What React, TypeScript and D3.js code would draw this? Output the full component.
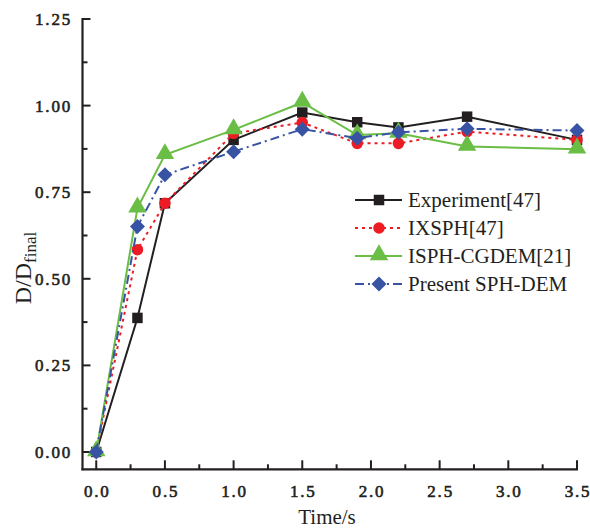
import React from "react";
import * as d3 from "d3";

const times = [0, 0.3, 0.5, 1.0, 1.5, 1.9, 2.2, 2.7, 3.5];
const experiment = [0, 0.387, 0.718, 0.901, 0.98, 0.952, 0.937, 0.968, 0.901];
const ixsph = [0, 0.584, 0.718, 0.92, 0.951, 0.891, 0.891, 0.925, 0.901];
const isphCgdem = [0, 0.704, 0.858, 0.93, 1.009, 0.915, 0.92, 0.882, 0.874];
const presentSphDem = [0, 0.651, 0.8, 0.867, 0.932, 0.906, 0.923, 0.933, 0.928];
const seriesNames = ["Experiment[47]", "IXSPH[47]", "ISPH-CGDEM[21]", "Present SPH-DEM"];
const xTickValues = [0, 0.5, 1.0, 1.5, 2.0, 2.5, 3.0, 3.5];
const yTickValues = [0, 0.25, 0.5, 0.75, 1.0, 1.25];

const W = 590;
const H = 529;

type Shape = "square" | "circle" | "triangle" | "diamond";
const styles: { color: string; dash: string; shape: Shape }[] = [
  { color: "#231f20", dash: "", shape: "square" },
  { color: "#ed1c24", dash: "3,4", shape: "circle" },
  { color: "#6abd45", dash: "", shape: "triangle" },
  { color: "#3953a4", dash: "9,4,2,4", shape: "diamond" },
];

function Marker({ shape, x, y, color }: { shape: Shape; x: number; y: number; color: string }) {
  let p: string;
  if (shape === "diamond") {
    const path = d3.path();
    path.moveTo(0, -7.5);
    path.lineTo(7.5, 0);
    path.lineTo(0, 7.5);
    path.lineTo(-7.5, 0);
    path.closePath();
    p = path.toString();
  } else {
    const sym = shape === "square" ? d3.symbolSquare : shape === "circle" ? d3.symbolCircle : d3.symbolTriangle;
    const size = shape === "square" ? 110 : shape === "circle" ? 105 : 90;
    p = d3.symbol().type(sym).size(size)() as string;
  }
  const t = shape === "triangle" ? `translate(${x},${y - 1}) scale(1.28)` : `translate(${x},${y})`;
  return <path d={p} transform={t} fill={color} />;
}

export default function App() {
  const x = d3.scaleLinear().domain([-0.1, 3.5]).range([82.5, 577]);
  const y = d3.scaleLinear().domain([-0.05, 1.25]).range([469.3, 19]);
  const data = [experiment, ixsph, isphCgdem, presentSphDem];
  const line = d3
    .line<number>()
    .x((_, i) => x(times[i]))
    .y((d) => y(d));

  const xMinor = d3.range(0.25, 3.5, 0.5);
  const yMinor = d3.range(0.125, 1.25, 0.25);
  const serif = "'Liberation Serif', 'Times New Roman', serif";

  return (
    <svg width={W} height={H} style={{ position: "absolute", left: 0, top: 0 }}>
      <rect width={W} height={H} fill="#fff" />
      {/* axes */}
      <line x1={x(-0.1)} x2={x(-0.1)} y1={y(1.25) - 1} y2={y(-0.05) + 1} stroke="#231f20" strokeWidth={2.2} />
      <line x1={x(-0.1) - 1} x2={x(3.5) + 1} y1={y(-0.05)} y2={y(-0.05)} stroke="#231f20" strokeWidth={2.2} />
      {yTickValues.map((v) => (
        <g key={"yt" + v}>
          <line x1={x(-0.1)} x2={x(-0.1) + 8} y1={y(v)} y2={y(v)} stroke="#231f20" strokeWidth={2} />
          <text x={72} y={y(v)} dy="0.35em" textAnchor="end" fontFamily={serif} fontSize={17} letterSpacing={1.8} fill="#231f20" stroke="#231f20" strokeWidth={0.6}>
            {d3.format(".2f")(v)}
          </text>
        </g>
      ))}
      {yMinor.map((v) => (
        <line key={"ym" + v} x1={x(-0.1)} x2={x(-0.1) + 5} y1={y(v)} y2={y(v)} stroke="#231f20" strokeWidth={2} />
      ))}
      {xTickValues.map((v) => (
        <g key={"xt" + v}>
          <line x1={x(v)} x2={x(v)} y1={y(-0.05)} y2={y(-0.05) - 9} stroke="#231f20" strokeWidth={2} />
          <text x={x(v) + 1} y={497} textAnchor="middle" fontFamily={serif} fontSize={17} letterSpacing={1.8} fill="#231f20" stroke="#231f20" strokeWidth={0.6}>
            {d3.format(".1f")(v)}
          </text>
        </g>
      ))}
      {xMinor.map((v) => (
        <line key={"xm" + v} x1={x(v)} x2={x(v)} y1={y(-0.05)} y2={y(-0.05) - 5} stroke="#231f20" strokeWidth={2} />
      ))}
      {/* axis titles */}
      <text x={327} y={524} textAnchor="middle" fontFamily={serif} fontSize={21} fill="#231f20">
        Time/s
      </text>
      <text transform="translate(31,268) rotate(-90)" textAnchor="middle" fontFamily={serif} fontSize={24} fill="#231f20">
        D/D<tspan fontSize={17} dy={5}>final</tspan>
      </text>
      {/* series */}
      {data.map((arr, si) => (
        <g key={"s" + si}>
          <path d={line(arr) as string} fill="none" stroke={styles[si].color} strokeWidth={2} strokeDasharray={styles[si].dash} />
          {arr.map((v, i) => (
            <Marker key={i} shape={styles[si].shape} x={x(times[i])} y={y(v)} color={styles[si].color} />
          ))}
        </g>
      ))}
      {/* legend */}
      {seriesNames.map((name, i) => {
        const ly = 200 + i * 28;
        return (
          <g key={"l" + i}>
            <line x1={355} x2={402} y1={ly} y2={ly} stroke={styles[i].color} strokeWidth={2} strokeDasharray={styles[i].dash} />
            <Marker shape={styles[i].shape} x={379} y={ly} color={styles[i].color} />
            <text x={408} y={ly} dy="0.35em" fontFamily={serif} fontSize={21} fill="#231f20">
              {name}
            </text>
          </g>
        );
      })}
    </svg>
  );
}
